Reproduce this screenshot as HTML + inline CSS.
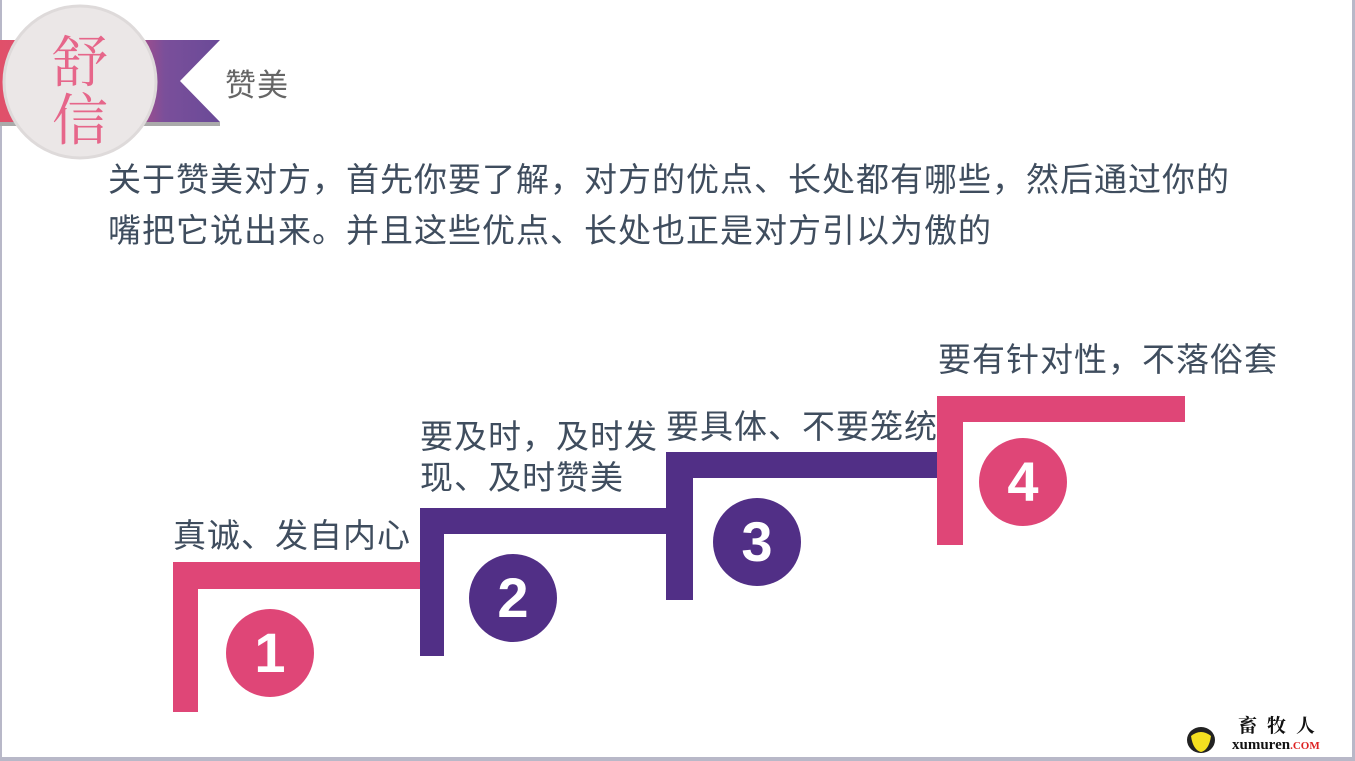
<!DOCTYPE html>
<html><head><meta charset="utf-8"><style>
body{margin:0;width:1355px;height:761px;background:#fff;position:relative;overflow:hidden;font-family:"Liberation Sans","Noto Sans CJK SC",sans-serif;}
.t{position:absolute;color:#3f4d5e;font-size:33px;letter-spacing:1px;line-height:40px;white-space:nowrap;}
.r{position:absolute;}
.p{background:#df4677}.u{background:#512f86}
.c{position:absolute;width:88px;height:88px;border-radius:50%;color:#fff;font-weight:bold;font-size:56px;line-height:88px;text-align:center;font-family:"Liberation Sans",sans-serif;}
</style></head><body>
<div class="r" style="left:0;top:0;width:2px;height:761px;background:#b8b8c8"></div>
<div class="r" style="left:1352px;top:0;width:3px;height:761px;background:#b8b8c8"></div>
<div class="r" style="left:0;top:757px;width:1355px;height:4px;background:#b8b8c8"></div>
<svg class="r" style="left:0;top:0" width="230" height="170">
<defs><linearGradient id="g" x1="0" x2="1"><stop offset="0" stop-color="#e0506a"/><stop offset="0.5" stop-color="#d64a7a"/><stop offset="0.75" stop-color="#7a4f9a"/><stop offset="1" stop-color="#6a4a98"/></linearGradient></defs>
<rect x="0" y="122" width="220" height="4" fill="#aaa"/>
<polygon points="0,40 220,40 180,81 220,122 0,122" fill="url(#g)"/>
<circle cx="80" cy="82" r="76" fill="#ebe7e7" stroke="#dedada" stroke-width="3"/>
<text x="80" y="82" font-size="56" fill="#e6507a" text-anchor="middle" font-family="Noto Serif CJK SC,serif" opacity="0.85">舒</text>
<text x="80" y="140" font-size="56" fill="#e6507a" text-anchor="middle" font-family="Noto Serif CJK SC,serif" opacity="0.85">信</text>
</svg>
<div class="t" style="left:225px;top:66px;font-size:31px;color:#666">赞美</div>
<div class="t" style="left:108px;top:160px">关于赞美对方，首先你要了解，对方的优点、长处都有哪些，然后通过你的</div>
<div class="t" style="left:108px;top:211px">嘴把它说出来。并且这些优点、长处也正是对方引以为傲的</div>
<div class="t" style="left:173px;top:516px">真诚、发自内心</div>
<div class="t" style="left:420px;top:417px">要及时，及时发</div>
<div class="t" style="left:420px;top:458px">现、及时赞美</div>
<div class="t" style="left:666px;top:407px">要具体、不要笼统</div>
<div class="t" style="left:938px;top:340px">要有针对性，不落俗套</div>
<div class="r p" style="left:173px;top:562px;width:25px;height:150px"></div>
<div class="r p" style="left:173px;top:562px;width:247px;height:27px"></div>
<div class="r u" style="left:420px;top:508px;width:24px;height:148px"></div>
<div class="r u" style="left:420px;top:508px;width:246px;height:26px"></div>
<div class="r u" style="left:666px;top:452px;width:27px;height:148px"></div>
<div class="r u" style="left:666px;top:452px;width:272px;height:26px"></div>
<div class="r p" style="left:937px;top:396px;width:26px;height:149px"></div>
<div class="r p" style="left:937px;top:396px;width:248px;height:26px"></div>
<div class="c p" style="left:226px;top:609px">1</div>
<div class="c u" style="left:469px;top:554px">2</div>
<div class="c u" style="left:713px;top:498px">3</div>
<div class="c p" style="left:979px;top:438px">4</div>
<svg class="r" style="left:1183px;top:718px" width="40" height="38"><ellipse cx="18" cy="22" rx="14" ry="13" fill="#222"/><path d="M8 18 Q18 10 28 18 Q26 32 18 34 Q10 32 8 18Z" fill="#f5e020"/></svg>
<div class="r" style="left:1238px;top:714px;font-size:19px;line-height:22px;font-weight:bold;color:#111;font-family:'Noto Serif CJK SC',serif;letter-spacing:10px">畜牧人</div>
<div class="r" style="left:1232px;top:737px;font-size:15px;line-height:16px;font-weight:bold;color:#111;font-family:'Liberation Serif',serif">xumuren<span style="color:#d22;font-size:11px">.COM</span></div>
</body></html>
